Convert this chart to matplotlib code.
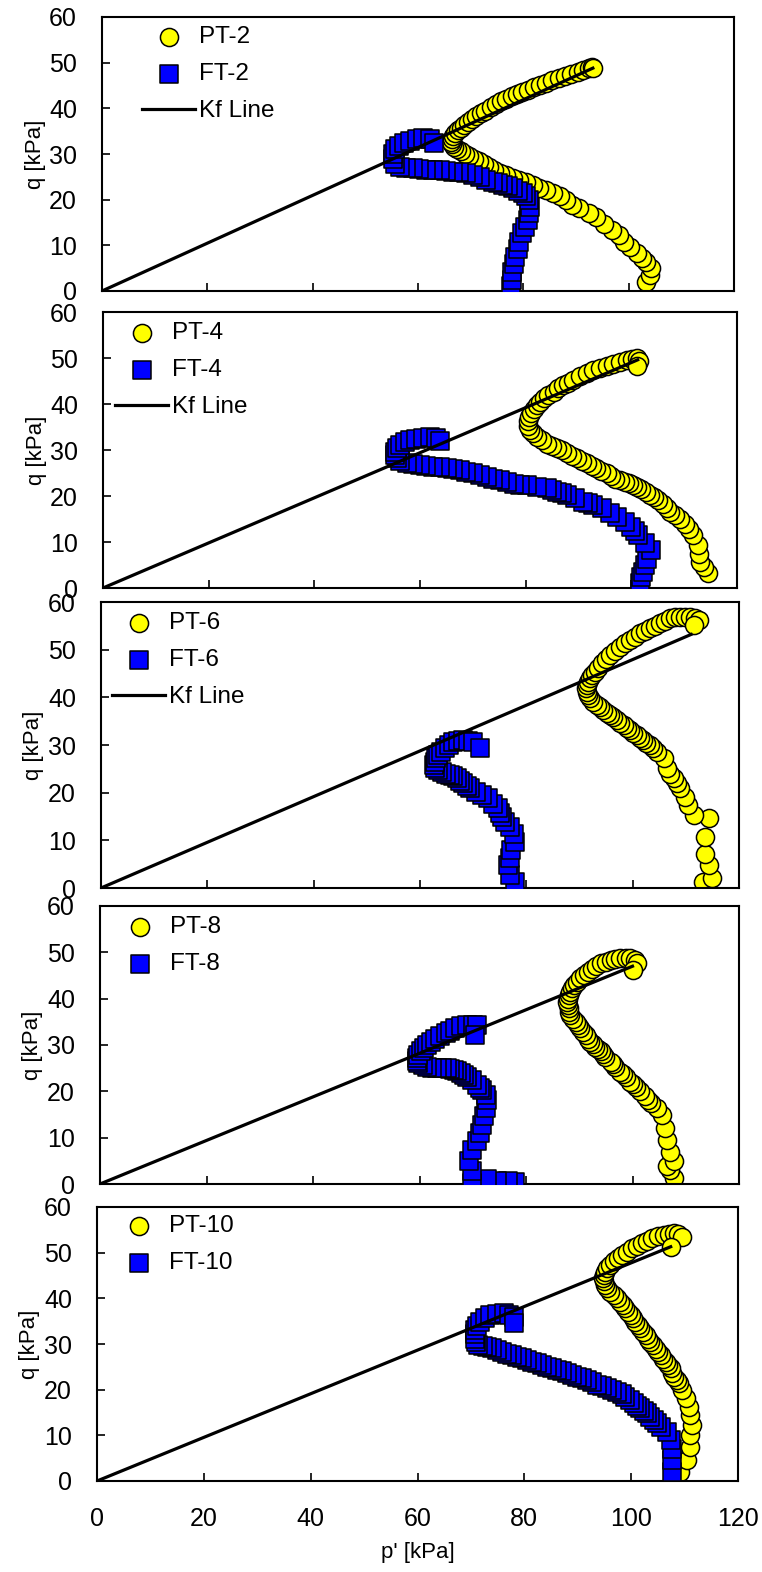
import matplotlib
matplotlib.use("Agg")
import matplotlib.pyplot as plt

plt.rcParams["font.family"] = ["Liberation Sans", "DejaVu Sans"]

# stress paths p' / q (kPa), one pair of tests per panel
pt2_p = [103.3, 104.0, 104.2, 103.3, 102.6, 101.5, 100.3, 99.2, 98.2, 96.9, 95.4, 93.8, 92.4, 90.6, 89.3, 88.1, 86.9, 85.6, 84.3, 83.0, 81.8, 80.5, 79.2, 78.0, 76.8, 75.6, 74.5, 73.5, 72.5, 71.5, 70.6, 69.7, 68.9, 68.1, 67.4, 66.8, 66.4, 66.3, 66.4, 66.7, 67.1, 67.6, 68.2, 68.8, 69.5, 70.3, 71.1, 71.9, 72.8, 73.8, 74.8, 75.8, 76.8, 77.8, 78.8, 79.8, 80.9, 82.0, 83.1, 84.3, 85.5, 86.7, 87.9, 89.1, 90.3, 91.4, 92.4, 93.0, 93.2]
pt2_q = [2.0, 3.5, 5.0, 6.3, 7.2, 8.4, 9.6, 10.8, 12.3, 13.3, 14.6, 16.2, 17.1, 18.1, 18.9, 19.9, 20.8, 21.5, 22.1, 22.6, 23.2, 23.8, 24.3, 24.8, 25.3, 25.8, 26.5, 27.2, 27.8, 28.4, 29.0, 29.6, 30.1, 30.6, 31.0, 31.5, 32.1, 32.7, 33.3, 33.9, 34.6, 35.2, 35.8, 36.4, 37.0, 37.6, 38.3, 38.9, 39.5, 40.2, 40.9, 41.5, 42.0, 42.6, 43.1, 43.6, 44.1, 44.6, 45.1, 45.6, 46.1, 46.6, 47.1, 47.6, 48.0, 48.4, 48.8, 49.1, 48.8]
ft2_p = [77.7, 77.8, 77.9, 78.3, 78.5, 79.0, 79.2, 79.8, 80.3, 80.8, 81.1, 81.2, 81.1, 80.5, 79.9, 79.0, 78.0, 77.0, 76.1, 75.2, 74.2, 73.0, 71.7, 70.4, 69.1, 67.8, 66.6, 65.3, 64.1, 62.8, 61.5, 60.2, 59.0, 57.8, 56.5, 55.6, 55.2, 55.2, 55.6, 56.3, 57.3, 58.5, 59.8, 61.0, 62.2, 63.1]
ft2_q = [1.0, 2.5, 4.2, 6.0, 7.5, 9.2, 10.8, 12.6, 14.0, 15.5, 17.0, 18.5, 19.9, 20.8, 21.4, 21.9, 22.5, 22.9, 23.2, 23.6, 23.9, 24.4, 25.0, 25.4, 25.8, 26.0, 26.1, 26.3, 26.4, 26.5, 26.5, 26.7, 26.9, 27.0, 27.2, 27.9, 29.0, 30.1, 31.0, 31.7, 32.3, 32.8, 33.2, 33.4, 33.3, 32.5]

pt4_p = [114.6, 113.8, 113.0, 112.9, 112.7, 111.7, 110.9, 110.1, 109.2, 108.2, 107.4, 106.7, 105.9, 105.1, 104.3, 103.5, 102.7, 101.9, 101.1, 100.4, 99.6, 98.8, 97.8, 96.9, 96.1, 95.3, 94.3, 93.4, 92.5, 91.6, 90.6, 89.7, 88.7, 87.8, 86.8, 85.9, 85.0, 84.0, 83.1, 82.1, 81.4, 80.8, 80.5, 80.5, 80.7, 81.1, 81.6, 82.1, 82.7, 83.4, 84.3, 85.3, 86.2, 87.1, 88.0, 89.0, 90.3, 91.6, 92.8, 94.1, 95.3, 96.6, 97.8, 99.1, 100.1, 101.0, 101.4, 101.1]
pt4_q = [3.2, 4.5, 5.7, 7.5, 9.3, 11.5, 12.8, 14.0, 15.0, 15.9, 16.6, 17.3, 18.2, 19.1, 19.7, 20.2, 20.9, 21.6, 22.0, 22.4, 22.8, 23.1, 23.5, 23.8, 24.4, 24.9, 25.5, 26.0, 26.6, 27.1, 27.7, 28.2, 28.8, 29.3, 29.9, 30.4, 30.9, 31.4, 32.1, 32.9, 33.6, 34.3, 35.2, 36.2, 37.1, 38.0, 38.9, 39.8, 40.5, 41.2, 42.0, 42.7, 43.4, 44.1, 44.6, 45.2, 46.0, 46.7, 47.3, 47.8, 48.3, 48.8, 49.2, 49.6, 49.8, 49.9, 49.4, 48.3]
ft4_p = [101.6, 101.9, 102.3, 102.6, 102.9, 103.8, 102.6, 101.3, 100.6, 100.0, 98.8, 97.2, 95.9, 94.4, 92.8, 91.8, 90.9, 89.3, 87.8, 86.8, 85.9, 84.9, 84.0, 82.1, 80.2, 78.9, 77.7, 76.4, 75.2, 73.9, 72.6, 71.3, 70.1, 68.8, 67.6, 66.3, 65.1, 63.8, 62.5, 61.2, 60.0, 58.7, 57.5, 56.3, 55.6, 55.3, 55.3, 55.6, 56.2, 57.1, 58.1, 59.3, 60.6, 61.9, 63.0, 63.8]
ft4_q = [1.0, 2.3, 3.5, 5.0, 6.4, 8.3, 9.7, 11.5, 12.4, 13.3, 14.4, 15.5, 16.2, 17.3, 18.0, 18.4, 18.8, 19.5, 20.2, 20.6, 20.9, 21.3, 21.7, 22.0, 22.4, 22.5, 22.7, 23.1, 23.5, 23.8, 24.2, 24.5, 24.9, 25.3, 25.7, 25.9, 26.0, 26.2, 26.4, 26.5, 26.7, 26.9, 27.1, 27.6, 28.2, 29.0, 29.6, 30.4, 31.1, 31.7, 32.2, 32.5, 32.7, 32.8, 32.6, 32.0]

pt6_p = [113.3, 114.9, 114.3, 113.6, 113.6, 114.3, 111.5, 110.5, 109.9, 108.9, 108.3, 107.7, 107.0, 106.4, 105.8, 104.5, 103.9, 103.3, 102.6, 102.0, 101.4, 100.8, 100.1, 99.5, 98.9, 98.3, 97.6, 97.0, 96.3, 95.7, 95.1, 94.5, 93.8, 93.2, 92.6, 92.0, 91.6, 91.4, 91.3, 91.4, 91.6, 92.0, 92.4, 92.9, 93.5, 94.2, 94.9, 95.7, 96.6, 97.6, 98.5, 99.5, 100.5, 101.4, 102.3, 103.3, 104.2, 105.2, 106.1, 107.1, 108.0, 108.9, 109.8, 110.8, 111.7, 112.4, 111.5]
pt6_q = [1.3, 2.0, 4.8, 7.2, 10.7, 14.6, 15.3, 17.4, 19.1, 20.9, 22.0, 23.0, 24.0, 25.1, 27.2, 28.6, 29.3, 30.0, 30.5, 31.0, 31.5, 32.1, 32.6, 33.1, 33.6, 34.2, 34.7, 35.2, 35.8, 36.3, 36.8, 37.3, 37.9, 38.4, 39.1, 39.8, 40.5, 41.2, 41.9, 42.6, 43.3, 44.0, 44.7, 45.4, 46.2, 47.1, 48.0, 48.9, 49.8, 50.6, 51.3, 52.0, 52.7, 53.4, 53.9, 54.5, 55.0, 55.5, 56.0, 56.6, 56.8, 56.9, 56.9, 56.9, 56.6, 56.2, 55.2]
ft6_p = [77.9, 76.9, 76.6, 76.9, 77.2, 77.9, 77.6, 76.9, 76.0, 75.4, 75.0, 74.7, 73.8, 72.8, 71.6, 70.6, 69.4, 68.8, 68.1, 67.5, 66.9, 66.2, 65.6, 64.8, 64.1, 63.4, 62.8, 62.7, 62.8, 63.0, 63.4, 64.0, 64.7, 65.5, 66.3, 67.2, 68.1, 69.1, 70.0, 71.3]
ft6_q = [1.3, 2.7, 4.8, 6.2, 7.9, 9.7, 11.4, 12.8, 13.9, 14.9, 15.8, 16.7, 17.7, 18.8, 19.5, 20.2, 20.9, 21.5, 22.0, 22.5, 23.0, 23.4, 23.7, 24.0, 24.4, 24.8, 25.1, 25.8, 26.5, 27.2, 27.9, 28.6, 29.3, 30.0, 30.7, 30.9, 31.0, 30.9, 30.7, 29.3]

pt8_p = [107.8, 107.1, 106.5, 107.8, 107.1, 106.5, 106.1, 105.6, 104.6, 103.4, 102.9, 102.4, 101.5, 100.6, 100.1, 99.6, 98.7, 98.2, 97.7, 96.8, 96.3, 95.9, 94.9, 94.5, 94.0, 93.5, 93.0, 92.6, 92.1, 91.6, 91.2, 90.7, 90.2, 89.8, 89.3, 88.8, 88.3, 88.1, 88.0, 87.8, 87.7, 87.8, 88.0, 88.3, 88.7, 89.1, 89.6, 90.2, 90.8, 91.6, 92.4, 93.2, 94.0, 95.0, 95.9, 96.8, 97.7, 98.7, 99.6, 100.4, 100.9, 100.0]
pt8_q = [1.3, 3.1, 3.8, 4.9, 7.0, 9.5, 12.0, 14.9, 16.4, 17.4, 18.2, 18.9, 20.0, 21.0, 21.5, 22.1, 23.2, 23.7, 24.2, 25.3, 25.8, 26.4, 27.5, 28.0, 28.6, 29.1, 29.6, 30.2, 30.7, 31.4, 32.1, 32.8, 33.6, 34.3, 35.0, 35.7, 36.5, 37.2, 37.9, 38.6, 39.3, 40.0, 40.8, 41.5, 42.2, 42.9, 43.6, 44.4, 45.1, 45.8, 46.4, 47.0, 47.6, 48.0, 48.4, 48.6, 48.8, 48.8, 48.7, 48.3, 47.6, 46.2]
ft8_p = [78.0, 76.7, 74.6, 72.7, 69.9, 69.9, 69.3, 69.9, 70.8, 71.4, 71.8, 72.1, 72.4, 72.7, 72.4, 71.8, 71.3, 70.8, 69.9, 69.0, 68.3, 67.7, 67.0, 66.4, 65.8, 65.2, 64.2, 63.3, 62.3, 61.4, 60.6, 59.8, 59.5, 59.5, 59.8, 60.2, 60.8, 61.4, 62.1, 62.9, 63.9, 64.9, 65.8, 66.7, 67.8, 69.0, 70.0, 70.8, 70.5]
ft8_q = [0.4, 0.6, 0.7, 1.0, 0.2, 2.7, 4.9, 7.4, 9.2, 11.0, 12.8, 14.6, 16.4, 18.2, 19.2, 20.3, 20.8, 21.4, 22.5, 23.2, 23.6, 23.9, 24.3, 24.6, 24.8, 25.0, 25.0, 25.0, 25.1, 25.3, 25.6, 26.1, 26.6, 27.1, 27.8, 28.6, 29.3, 30.0, 30.7, 31.4, 31.9, 32.5, 33.0, 33.6, 34.0, 34.3, 34.4, 34.3, 32.2]

pt10_p = [109.2, 110.5, 111.1, 111.1, 111.4, 111.1, 110.8, 110.2, 109.6, 109.0, 108.5, 108.0, 107.7, 107.4, 106.9, 106.5, 106.0, 105.5, 105.0, 104.6, 104.1, 103.6, 103.1, 102.7, 102.2, 101.7, 101.2, 100.8, 100.3, 99.9, 99.4, 98.9, 98.4, 98.0, 97.3, 96.7, 96.1, 95.5, 95.1, 94.9, 94.8, 94.9, 95.1, 95.5, 96.0, 96.7, 97.5, 98.3, 99.2, 100.2, 101.1, 102.1, 103.0, 103.9, 105.0, 106.1, 107.0, 108.0, 108.8, 109.6, 107.4]
pt10_q = [2.0, 4.5, 7.5, 10.0, 12.2, 14.4, 16.3, 18.1, 19.9, 21.4, 22.1, 22.8, 23.7, 24.7, 25.4, 26.1, 26.8, 27.6, 28.3, 29.0, 29.7, 30.5, 31.2, 32.0, 32.7, 33.4, 34.1, 34.9, 35.6, 36.4, 37.1, 37.8, 38.5, 39.3, 40.0, 40.7, 41.4, 42.2, 42.9, 43.7, 44.4, 45.1, 45.8, 46.6, 47.3, 48.1, 48.8, 49.5, 50.2, 51.0, 51.5, 52.1, 52.6, 53.2, 53.6, 53.9, 54.1, 54.3, 54.0, 53.5, 51.3]
ft10_p = [107.7, 107.7, 107.7, 107.4, 106.7, 105.5, 104.9, 104.2, 103.6, 103.0, 102.4, 101.7, 101.1, 100.5, 99.7, 98.9, 98.2, 97.4, 96.5, 95.5, 94.6, 93.6, 92.7, 91.7, 90.8, 89.9, 88.9, 88.0, 87.0, 86.1, 85.2, 84.3, 83.3, 82.4, 81.5, 80.5, 79.6, 78.6, 77.7, 76.8, 75.8, 74.9, 73.9, 73.0, 72.2, 71.4, 71.0, 70.8, 70.7, 70.8, 71.2, 71.7, 72.6, 73.6, 74.8, 76.1, 77.1, 78.0, 78.0]
ft10_q = [2.0, 4.5, 7.1, 8.9, 10.7, 11.9, 12.6, 13.3, 14.1, 14.8, 15.3, 15.9, 16.5, 17.0, 17.7, 18.4, 19.0, 19.5, 19.9, 20.3, 20.7, 21.0, 21.6, 22.1, 22.5, 22.8, 23.2, 23.6, 24.0, 24.3, 24.7, 25.0, 25.4, 25.8, 26.1, 26.5, 26.9, 27.2, 27.5, 27.9, 28.3, 28.7, 29.1, 29.4, 29.6, 29.8, 30.5, 31.2, 32.1, 33.1, 34.0, 34.9, 35.7, 36.4, 36.6, 36.7, 36.4, 36.0, 34.5]

# Kf line end point (starts at the origin) for each panel
kf_p_end = [93.2, 101.2, 111.0, 100.0, 107.4]
kf_q_end = [48.8, 49.6, 53.2, 47.0, 51.3]

pt_labels = ["PT-2", "PT-4", "PT-6", "PT-8", "PT-10"]
ft_labels = ["FT-2", "FT-4", "FT-6", "FT-8", "FT-10"]
kf_in_legend = [True, True, True, False, False]

pt_p = [pt2_p, pt4_p, pt6_p, pt8_p, pt10_p]
pt_q = [pt2_q, pt4_q, pt6_q, pt8_q, pt10_q]
ft_p = [ft2_p, ft4_p, ft6_p, ft8_p, ft10_p]
ft_q = [ft2_q, ft4_q, ft6_q, ft8_q, ft10_q]

W, H = 762, 1572
# panel boxes in pixels: left, top, right, bottom
boxes = [(102, 17, 734, 291), (103, 312, 737, 588), (101, 602, 739, 888),
         (100, 906, 739, 1184), (97, 1207, 738, 1481)]
leg_x = [40, 12, 11, 13, 15]     # legend handle offset from the left spine
leg_y = [9, 10, 10, 10, 8]       # legend offset from the top spine

fig = plt.figure(figsize=(W / 100, H / 100), dpi=100)

for i in range(5):
    l, t, r, b = boxes[i]
    ax = fig.add_axes([l / W, 1 - b / H, (r - l) / W, (b - t) / H])
    pts = ax.scatter(pt_p[i], pt_q[i], s=170, marker="o", facecolor="#FFFF00",
                     edgecolor="black", linewidth=1.1, zorder=2)
    fts = ax.scatter(ft_p[i], ft_q[i], s=165, marker="s", facecolor="#0000FF",
                     edgecolor="black", linewidth=1.1, zorder=3)
    kf, = ax.plot([0, kf_p_end[i]], [0, kf_q_end[i]], color="black", lw=2.3,
                  zorder=4)

    ax.set_xlim(0, 120)
    ax.set_ylim(0, 60)
    ax.set_xticks(range(0, 121, 20))
    ax.set_yticks(range(0, 61, 10))
    for s in ax.spines.values():
        s.set_linewidth(1.5)
    ax.tick_params(axis="x", direction="in", length=6, width=1.2,
                   labelsize=18, pad=19)
    ax.tick_params(axis="y", direction="in", length=6, width=1.2,
                   labelsize=18, pad=18)
    if i < 4:
        ax.tick_params(axis="x", labelbottom=False)
    else:
        ax.set_xlabel("p' [kPa]", fontsize=16)
        ax.xaxis.set_label_coords(0.5, -0.222)
    ax.set_ylabel("q [kPa]", fontsize=16)
    ax.yaxis.set_label_coords(-0.089, 0.5)

    handles = [pts, fts]
    labels = [pt_labels[i], ft_labels[i]]
    if kf_in_legend[i]:
        handles.append(kf)
        labels.append("Kf Line")
    ax.legend(handles, labels, loc="upper left", frameon=False, fontsize=17.5,
              bbox_to_anchor=(leg_x[i] / (r - l), 1 - leg_y[i] / (b - t)),
              borderpad=0, borderaxespad=0, handlelength=2.2,
              handletextpad=0.15, labelspacing=0.62, scatterpoints=1)

fig.savefig("out.png", dpi=100)
